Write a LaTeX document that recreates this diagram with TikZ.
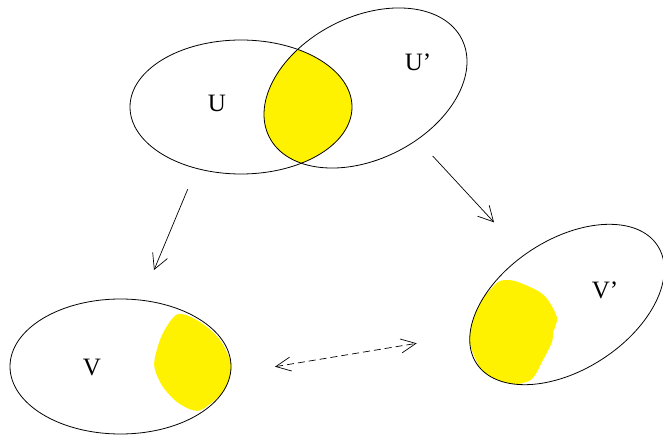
\documentclass[tikz,border=0pt]{standalone}
\usepackage{fontspec}
\setmainfont{Liberation Serif}
\usetikzlibrary{arrows.meta}
\begin{document}
\begin{tikzpicture}[x=1pt,y=1pt,
  setline/.style={draw=black,line width=0.8pt},
  blob/.style={fill=yellow},
  lbl/.style={font=\fontsize{25}{30}\selectfont,inner sep=0pt},
  arr/.style={line width=0.7pt,-{Straight Barb[length=15pt,width=16pt,line width=0.7pt]}},
  darr/.style={line width=0.7pt,dash pattern=on 7pt off 4pt,{Straight Barb[length=15pt,width=14pt,line width=0.7pt]}-{Straight Barb[length=15pt,width=14pt,line width=0.7pt]}}]
\useasboundingbox (0,0) rectangle (663,436);
\fill[white] (0,0) rectangle (663,436);
% yellow intersection of U and U'
\begin{scope}
  \clip (241,329) ellipse [x radius=111, y radius=67];
  \fill[yellow] (365.5,348) [rotate around={27:(365.5,348)}] ellipse [x radius=108, y radius=71];
\end{scope}
% yellow blob in V
\begin{scope}
  \clip (120.5,69.5) ellipse [x radius=110.5, y radius=67.5];
  \fill[blob] plot[smooth cycle,tension=0.5] coordinates {(178,122) (200,114) (220,96) (232,69) (225,46) (203,27) (192,26) (177,34) (163,49) (155,66) (155,79) (163,103)};
\end{scope}
% yellow blob in V'
\begin{scope}
  \clip (567,131.5) [rotate around={33:(567,131.5)}] ellipse [x radius=108, y radius=65];
  \fill[blob] plot[smooth cycle,tension=0.5] coordinates {(500,155) (515,155) (538,145) (548,136) (557,118) (553,103) (552,94) (543,76) (529,55) (493,52) (476,76) (468,103) (476,129) (490,146)};
\end{scope}
% ellipses
\draw[setline] (241,329) ellipse [x radius=111, y radius=67];
\draw[setline] (365.5,348) [rotate around={27:(365.5,348)}] ellipse [x radius=108, y radius=71];
\draw[setline] (120.5,69.5) ellipse [x radius=110.5, y radius=67.5];
\draw[setline] (567,131.5) [rotate around={33:(567,131.5)}] ellipse [x radius=108, y radius=65];
% labels
\node[lbl] (U) at (217,333) {U};
\node[lbl] (Up) at (418,374) {U’};
\node[lbl] (V) at (92,68) {V};
\node[lbl] (Vp) at (605,146) {V’};
% arrows
\coordinate (a1s) at (187.7,246.7);
\coordinate (a1e) at (154,166);
\coordinate (a2s) at (432.7,280);
\coordinate (a2e) at (494,213.7);
\coordinate (d1) at (275,69.3);
\coordinate (d2) at (416.7,92.7);
\draw[arr] (a1s) -- (a1e);
\draw[arr] (a2s) -- (a2e);
\draw[darr] (d1) -- (d2);
\end{tikzpicture}
\end{document}
